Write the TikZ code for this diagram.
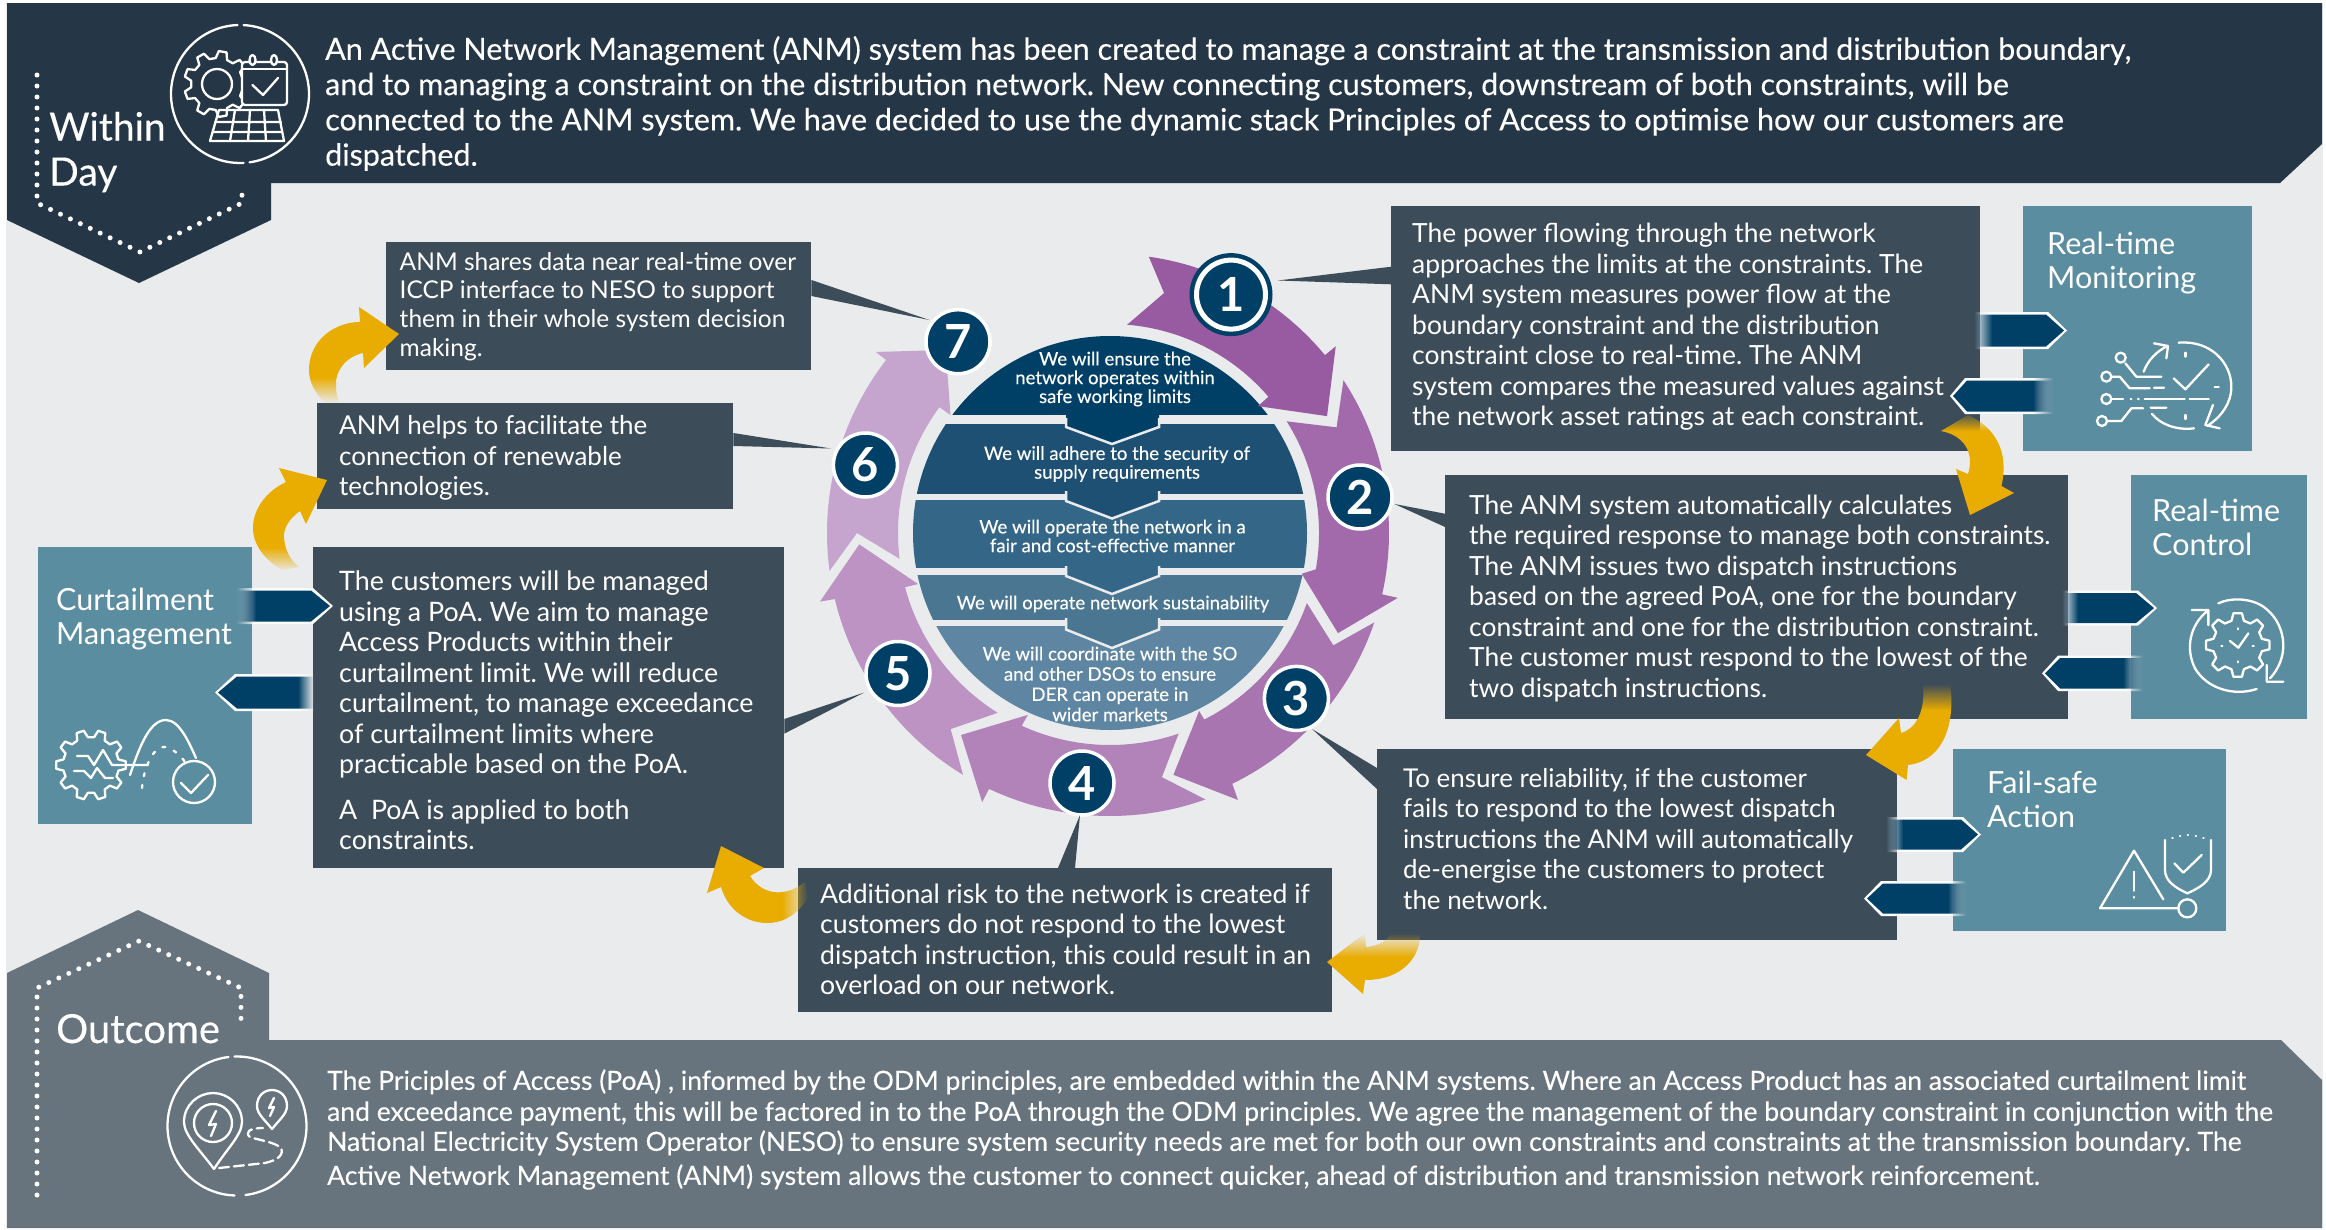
\documentclass[tikz,border=0pt]{standalone}
\usepackage{fontspec}
\setmainfont{Lato}
\newfontfamily\medfont[FakeBold=0.25]{Lato}
\usetikzlibrary{fadings}
\definecolor{bgc}{HTML}{E9EBED}
\definecolor{topc}{HTML}{253646}
\definecolor{botc}{HTML}{67737D}
\definecolor{boxc}{HTML}{3D4C59}
\definecolor{tealc}{HTML}{5B8DA0}
\definecolor{navyc}{HTML}{003F66}
\definecolor{goldc}{HTML}{E9AC00}
\definecolor{bandb}{HTML}{1D5073}
\definecolor{bandc}{HTML}{346687}
\definecolor{bandd}{HTML}{4A7692}
\definecolor{bande}{HTML}{5E85A2}
\definecolor{ringa}{HTML}{985AA0}
\definecolor{ringb}{HTML}{A36AAB}
\definecolor{ringc}{HTML}{A975B0}
\definecolor{ringd}{HTML}{B283B8}
\definecolor{ringe}{HTML}{BC93C2}
\definecolor{ringf}{HTML}{C5A5CE}
\tikzfading[name=fadeR, left color=transparent!0, right color=transparent!100]
\tikzfading[name=fadeL, left color=transparent!100, right color=transparent!0]
\tikzfading[name=fadeU, top color=transparent!100, bottom color=transparent!0]
\tikzfading[name=fadeD, top color=transparent!0, bottom color=transparent!100]
\newcommand\fsz[2]{\fontsize{#1}{#2}\selectfont}
\tikzset{
  every node/.append style={execute at begin node=\frenchspacing},
  infobox/.style={fill=boxc,draw=none,inner sep=0,anchor=north west},
  tealbox/.style={fill=tealc,draw=none,inner sep=0,anchor=north west},
  txt/.style={text=white,align=left,inner sep=0,anchor=west,font=\fsz{26.4}{30.5}},
  teallabel/.style={text=white,align=left,inner sep=0,anchor=base west,font=\fsz{30.5}{34}},
  bandtxt/.style={text=white,align=center,inner sep=0,font=\medfont\fsz{18.6}{18.8}},
  numc/.style={circle,fill=navyc,draw=white,line width=3.5pt,minimum size=64pt,inner sep=0,text=white,font=\bfseries\fsz{47}{47}},
  icon/.style={draw=white,line width=2.3pt,line cap=round,line join=round},
  dots/.style={draw=white,line width=5pt,line cap=round,dash pattern=on 0pt off 11pt},
  pointer/.style={fill=boxc,draw=none},
}
\newcommand\ringarrow[9]{\fill[#1] (#2:\ro pt) arc[start angle=#2,end angle=#3,radius=\ro pt] -- (#4) -- (#5) -- (#6) -- (#7:\ri pt) arc[start angle=#7,end angle=#8,radius=\ri pt] -- (#9) -- cycle;}
\newcommand\goldarrow[6]{\begin{scope}\clip #1;\fill[goldc] #2 rectangle #3;\fill[goldc,path fading=#6] #4 rectangle #5;\end{scope}}
\newcommand\chevR[6]{%
 \begin{scope}\clip (#1,#5) -- (#3+1,#5) -- (#4+2,{(#5+#6)/2}) -- (#3+1,#6) -- (#1,#6) -- cycle;
  \fill[white!85!bgc] (#2,#5-1) rectangle (#4+3,#6+1);
  \fill[white!85!bgc,path fading=fadeL] (#1,#5-1) rectangle (#2,#6+1);\end{scope}
 \begin{scope}\clip (#1,#5+2.5) -- (#3-1,#5+2.5) -- (#4-1,{(#5+#6)/2}) -- (#3-1,#6-2.5) -- (#1,#6-2.5) -- cycle;
  \fill[navyc] (#2,#5) rectangle (#4+3,#6);
  \fill[navyc,path fading=fadeL] (#1,#5) rectangle (#2,#6);\end{scope}}
\newcommand\chevL[6]{%
 \begin{scope}\clip (#4,#5) -- (#2-1,#5) -- (#1-2,{(#5+#6)/2}) -- (#2-1,#6) -- (#4,#6) -- cycle;
  \fill[white!85!bgc] (#1-3,#5-1) rectangle (#3,#6+1);
  \fill[white!85!bgc,path fading=fadeR] (#3,#5-1) rectangle (#4,#6+1);\end{scope}
 \begin{scope}\clip (#4,#5+2.5) -- (#2+1,#5+2.5) -- (#1+1,{(#5+#6)/2}) -- (#2+1,#6-2.5) -- (#4,#6-2.5) -- cycle;
  \fill[navyc] (#1-3,#5) rectangle (#3,#6);
  \fill[navyc,path fading=fadeR] (#3,#5) rectangle (#4,#6);\end{scope}}
\newcommand\mygear[4]{\begin{scope}[shift={(#1)}]\pgfmathsetmacro\gs{360/#4}
 \draw[icon] (-.32*\gs:#3pt) \foreach \i [evaluate=\i as \ga using \i*\gs] in {1,...,#4}{ -- (\ga-\gs-.32*\gs:#3pt) -- (\ga-\gs-.17*\gs:#2pt) -- (\ga-\gs+.17*\gs:#2pt) -- (\ga-\gs+.32*\gs:#3pt)} -- cycle;\end{scope}}
\begin{document}
\begin{tikzpicture}[x=1pt,y=-1pt]
\useasboundingbox (0,0) rectangle (2326,1229);
\fill[white] (0,0) rectangle (2326,1229);
\fill[bgc] (6,3) rectangle (2323,1228);
% top banner
\fill[topc] (7,3) -- (2322,3) -- (2322,144) -- (2280,183) -- (271,183) -- (271,220) -- (139,283) -- (7,220) -- cycle;
\draw[dots] (37,75) -- (37,203) -- (140,252) -- (242,203) -- (242,192);
\node[text=white,align=left,inner sep=0,anchor=west,font=\medfont\fsz{39}{45}] (within) at (49,152) {Within\\Day};
\node[txt,font=\medfont\fsz{30.5}{35.3}] (toptext) at (325,103.5) {An Active Network Management (ANM) system has been created to manage a constraint at the transmission and distribution boundary,\\and to managing a constraint on the distribution network. New connecting customers, downstream of both constraints, will be\\connected to the ANM system. We have decided to use the dynamic stack Principles of Access to optimise how our customers are\\dispatched.};
% top icon
\draw[icon] (240,94) ++(87:69pt) arc[start angle=87,end angle=-82,radius=69pt];
\draw[icon] (240,94) ++(92:69pt) arc[start angle=92,end angle=273,radius=69pt];
\mygear{217,84}{33}{26}{9}
\draw[icon] (217,84) circle[radius=15pt];
\draw[icon,fill=topc,rounded corners=3pt] (242,62) rectangle (287,105);
\draw[icon] (242,69) -- (287,69);
\draw[icon,fill=topc] (252.5,60) ellipse[x radius=3pt,y radius=5pt];
\draw[icon,fill=topc] (274,60) ellipse[x radius=3pt,y radius=5pt];
\draw[icon] (252.5,85) -- (263,95) -- (278,78);
\draw[icon] (219,110) -- (278,110) -- (284,141) -- (210,141) -- cycle;
\draw[icon] (215,122) -- (281,122) (213,132) -- (282,132) (235,110) -- (230,141) (250,110) -- (248,141) (264,110) -- (266,141);
% bottom banner
\fill[botc] (7,973) -- (138,910) -- (269,973) -- (269,1040) -- (2281,1040) -- (2322,1080) -- (2322,1228) -- (7,1228) -- cycle;
\draw[dots] (37,1195) -- (37,988) -- (139,941) -- (241,988) -- (241,1023);
\node[text=white,inner sep=0,anchor=base west,font=\medfont\fsz{40}{44}] (outcome) at (56,1043) {Outcome};
\node[txt,font=\medfont\fsz{26.5}{30}] (bottext) at (327,1129.5) {The Priciples of Access (PoA) , informed by the ODM principles, are embedded within the ANM systems. Where an Access Product has an associated curtailment limit\\[1pt]and exceedance payment, this will be factored in to the PoA through the ODM principles. We agree the management of the boundary constraint in conjunction with the\\National Electricity System Operator (NESO) to ensure system security needs are met for both our own constraints and constraints at the transmission boundary. The\\[4pt]Active Network Management (ANM) system allows the customer to connect quicker, ahead of distribution and transmission network reinforcement.};
% bottom icon
\draw[icon] (237,1126) ++(92:69.5pt) arc[start angle=92,end angle=-83,radius=69.5pt];
\draw[icon] (237,1126) ++(97:69.5pt) arc[start angle=97,end angle=268,radius=69.5pt];
\draw[icon] (214,1169) .. controls (200,1150) and (184,1135) .. (184,1122) .. controls (184,1105) and (198,1093) .. (213,1093) .. controls (228,1093) and (242,1105) .. (242,1122) .. controls (242,1135) and (226,1150) .. (214,1169);
\draw[icon] (213,1123) circle[radius=19pt];
\draw[icon] (216,1111) -- (209,1125) -- (216,1124) -- (211,1136);
\draw[icon] (272,1129) .. controls (265,1120) and (257,1114) .. (257,1106) .. controls (257,1096) and (264,1090) .. (272,1090) .. controls (280,1090) and (287,1096) .. (287,1106) .. controls (287,1114) and (279,1120) .. (272,1129);
\draw[icon] (274,1098) -- (269,1108) -- (274,1107) -- (270,1116);
\draw[icon,dash pattern=on 10pt off 5pt] (219,1168) -- (265,1163) .. controls (278,1160) and (284,1155) .. (281,1148) .. controls (275,1142) and (258,1140) .. (250,1137) .. controls (245,1133) and (248,1128) .. (263,1128);
% disc bands
\begin{scope}
\clip (1110,533) circle[radius=197pt];
\fill[navyc] (900,330) rectangle (1320,415);
\fill[bandb] (900,423.6) rectangle (1320,493.6);
\fill[bandc] (900,500) rectangle (1320,568);
\fill[bandd] (900,575) rectangle (1320,620);
\fill[bande] (900,626) rectangle (1320,740);
\end{scope}
\fill[navyc] (1066,411) -- (1066,427) -- (1112,444) -- (1159,427) -- (1159,411) -- cycle;
\draw[bgc,line width=2.5pt] (1066,418) -- (1066,427) -- (1112,444) -- (1159,427) -- (1159,418);
\fill[bandb] (1066,490) -- (1066,501) -- (1112,518.5) -- (1159,501) -- (1159,490) -- cycle;
\draw[bgc,line width=2.5pt] (1066,491) -- (1066,501) -- (1112,518.5) -- (1159,501) -- (1159,491);
\fill[bandc] (1066,565) -- (1066,576) -- (1112,594) -- (1159,576) -- (1159,565) -- cycle;
\draw[bgc,line width=2.5pt] (1066,566) -- (1066,576) -- (1112,594) -- (1159,576) -- (1159,566);
\fill[bandd] (1066,617) -- (1066,629.5) -- (1112,648) -- (1159,629.5) -- (1159,617) -- cycle;
\draw[bgc,line width=2.5pt] (1066,618) -- (1066,629.5) -- (1112,648) -- (1159,629.5) -- (1159,618);
\node[bandtxt] (band1) at (1115,379) {We will ensure the\\network operates within\\safe working limits};
\node[bandtxt] (band2) at (1117,464) {We will adhere to the security of\\supply requirements};
\node[bandtxt] (band3) at (1112.5,536) {We will operate the network in a\\fair and cost-effective manner};
\node[bandtxt] (band4) at (1113,604) {We will operate network sustainability};
\node[bandtxt,font=\medfont\fsz{18.6}{20.3}] (band5) at (1110,684) {We will coordinate with the SO\\and other DSOs to ensure\\DER can operate in\\wider markets};
% ring arrows
\begin{scope}[shift={(1110,533)}]
\def\ro{279}\def\ri{209}
\ringarrow{ringa}{82}{39.6}{39.6:293pt}{28.3:246.5pt}{40.6:195pt}{40.7}{85.3}{77.3:246pt}
\ringarrow{ringb}{33.2}{-12.7}{-12.7:295pt}{-23.7:249pt}{-12:196pt}{-10}{32.3}{25:250pt}
\ringarrow{ringc}{-18.7}{-64}{-64.4:296pt}{-75.3:250pt}{-63.4:199pt}{-63.2}{-19.6}{-26.7:250pt}
\def\ro{283}\def\ri{212}
\ringarrow{ringd}{-70.3}{-115.3}{-115.4:298pt}{-126.4:251pt}{-114.3:199.6pt}{-114.6}{-71.1}{-78:249.6pt}
\ringarrow{ringe}{-121.3}{-166.5}{-166.7:298pt}{-177.4:251pt}{-165.1:198.6pt}{-165.2}{-122}{-129.1:252.7pt}
\ringarrow{ringf}{-172.3}{-217.7}{-217.7:296pt}{-228.1:246pt}{-216.5:198.4pt}{-216.4}{-173}{-180:253pt}
\end{scope}
% boxes
\node[infobox,minimum width=589pt,minimum height=245.5pt] (box1) at (1391,205.5) {};
\node[infobox,minimum width=623pt,minimum height=244pt] (box2) at (1445,475) {};
\node[infobox,minimum width=520pt,minimum height=191pt] (box3) at (1377,749) {};
\node[infobox,minimum width=534pt,minimum height=144pt] (box4) at (798,868) {};
\node[infobox,minimum width=471pt,minimum height=321pt] (box5) at (313,547) {};
\node[infobox,minimum width=416pt,minimum height=106pt] (box6) at (317,403) {};
\node[infobox,minimum width=425pt,minimum height=128pt] (box7) at (386,242) {};
\node[tealbox,minimum width=229pt,minimum height=245.5pt] (mon) at (2023,205.5) {};
\node[tealbox,minimum width=176pt,minimum height=244pt] (ctl) at (2131,475) {};
\node[tealbox,minimum width=273pt,minimum height=182pt] (fail) at (1953,749) {};
\node[tealbox,minimum width=214pt,minimum height=277pt] (cur) at (38,547) {};
% number circles
\fill[navyc] (1231,294.6) circle[radius=41.5pt];
\node[numc,minimum size=69pt,line width=5pt] (n1) at (1231,294.6) {1};
\node[numc] (n2) at (1360,497) {2};
\node[numc] (n3) at (1296.4,698.4) {3};
\node[numc] (n4) at (1082,783) {4};
\node[numc] (n5) at (898,673.5) {5};
\node[numc] (n6) at (865.4,465) {6};
\node[numc] (n7) at (958,341.7) {7};
% pointers
\coordinate (tip1) at (1278,280.5);
\coordinate (tip2) at (1394.5,504);
\coordinate (tip3) at (1312,729);
\coordinate (tip4) at (1080,815);
\coordinate (tip5) at (864,692.6);
\coordinate (tip6) at (831,448.5);
\coordinate (tip7) at (929.4,320);
\fill[pointer] (tip1) -- (box1.west |- 0,266.7) -- (box1.west |- 0,284.3) -- cycle;
\fill[pointer] (tip2) -- (box2.west |- 0,513.7) -- (box2.west |- 0,527) -- cycle;
\fill[pointer] (tip3) -- (box3.west |- 0,768) -- (box3.west |- 0,789) -- cycle;
\fill[pointer] (tip4) -- (1058,868) -- (1075,868) -- cycle;
\fill[pointer] (tip5) -- (box5.east |- 0,719) -- (box5.east |- 0,733.6) -- cycle;
\fill[pointer] (tip6) -- (box6.east |- 0,433) -- (box6.east |- 0,446) -- cycle;
\fill[pointer] (tip7) -- (box7.east |- 0,280) -- (box7.east |- 0,296) -- cycle;
% box text
\node[txt] (t1) at (1412,327) {The power flowing through the network\\approaches the limits at the constraints. The\\ANM system measures power flow at the\\boundary constraint and the distribution\\constraint close to real-time. The ANM\\system compares the measured values against\\the network asset ratings at each constraint.};
\node[txt] (t2) at (1469,598.5) {The ANM system automatically calculates\\the required response to manage both constraints.\\The ANM issues two dispatch instructions\\based on the agreed PoA, one for the boundary\\constraint and one for the distribution constraint.\\The customer must respond to the lowest of the\\two dispatch instructions.};
\node[txt,font=\fsz{25.9}{30.5}] (t3) at (1403,839) {To ensure reliability, if the customer\\fails to respond to the lowest dispatch\\instructions the ANM will automatically\\de-energise the customers to protect\\the network.};
\node[txt,font=\fsz{26.6}{30.5}] (t4) at (820,939.5) {Additional risk to the network is created if\\customers do not respond to the lowest\\dispatch instruction, this could result in an\\overload on our network.};
\node[txt,font=\fsz{26.8}{30.5}] (t5) at (339,710.5) {The customers will be managed\\using a PoA. We aim to manage\\Access Products within their\\curtailment limit. We will reduce\\curtailment, to manage exceedance\\of curtailment limits where\\practicable based on the PoA.\\[15pt]A~ PoA is applied to both\\constraints.};
\node[txt,font=\fsz{26}{30.5}] (t6) at (339,458) {ANM helps to facilitate the\\connection of renewable\\technologies.};
\node[txt,font=\fsz{24.5}{28.7}] (t7) at (399.5,306.5) {ANM shares data near real-time over\\ICCP interface to NESO to support\\them in their whole system decision\\making.};
\node[teallabel] (l1) at (2047,288) {Real-time\\Monitoring};
\node[teallabel] (l2) at (2152,555) {Real-time\\Control};
\node[teallabel] (l3) at (1987,827) {Fail-safe\\Action};
\node[teallabel] (l4) at (56,644) {Curtailment\\Management};
% gold arrows
\goldarrow{(1968,415) .. controls (1996,428) and (2009,452) .. (2001.5,486) -- (2014,493) -- (1970,515) -- (1956,469) -- (1968,474) .. controls (1975,452) and (1963,435) .. (1941,431) -- cycle}{(1930,431)}{(2030,520)}{(1930,412)}{(2030,431)}{fadeU}
\goldarrow{(1950,684) .. controls (1955,715) and (1948,760) .. (1908,765) -- (1906.6,780) -- (1866,755) -- (1899,718) -- (1901,733) .. controls (1913,730) and (1926,715) .. (1923,684) -- cycle}{(1860,710)}{(1960,785)}{(1860,684)}{(1960,710)}{fadeU}
\goldarrow{(1420,933) .. controls (1421,955) and (1404,980) .. (1365,980) -- (1363,994) -- (1327,962) -- (1365,933) -- (1366,947) .. controls (1377,946) and (1387,942) .. (1391,933) -- cycle}{(1320,957)}{(1425,1000)}{(1320,933)}{(1425,957)}{fadeU}
\goldarrow{(721,846) -- (764,868) -- (750,876) .. controls (762,895) and (785,898) .. (805,882) -- (808,898) .. controls (795,918) and (780,923) .. (767,923) .. controls (745,923) and (727,908) .. (721,887) -- (707,893) -- cycle}{(700,840)}{(782,930)}{(782,840)}{(808,930)}{fadeR}
\goldarrow{(327,480) -- (306,524) -- (300,511) .. controls (290,518) and (283,528) .. (284,538) .. controls (285,550) and (290,560) .. (299,567) -- (282,570) .. controls (265,560) and (253,545) .. (253,528) .. controls (253,510) and (265,492) .. (286,482) -- (279,468) -- cycle}{(245,460)}{(335,547)}{(245,547)}{(335,572)}{fadeD}
\goldarrow{(399,334) -- (364,368) -- (363,353) .. controls (345,357) and (335,372) .. (336,385) .. controls (336,392) and (337,397) .. (339,402) -- (325,403) .. controls (315,393) and (309,382) .. (309,370) .. controls (309,340) and (335,322) .. (360,322) -- (359,307) -- cycle}{(300,300)}{(405,377)}{(300,377)}{(405,403)}{fadeD}
% small arrows
\chevR{1974}{1992}{2047}{2065}{312}{349}
\chevL{1952}{1966}{2033}{2053}{378}{414}
\chevR{2062}{2078}{2137}{2155}{590.5}{625.6}
\chevL{2044}{2059}{2123}{2143}{655.6}{691}
\chevR{1886}{1903}{1962}{1979}{817}{852}
\chevL{1866}{1882}{1948}{1966}{881}{916}
\chevR{236}{256}{312}{331}{588}{624}
\chevL{217}{236}{298}{314}{674}{711}
% monitoring icon
\begin{scope}[shift={(2078,320)},x=0.3333pt,y=-0.3333pt]
\draw[icon] (128,113) circle[radius=5pt] (85,170) circle[radius=5pt] (85,237) circle[radius=5pt] (72,303) circle[radius=5pt];
\draw[icon] (142,130) -- (175,170) -- (250,170) (100,170) -- (125,170) -- (155,205) -- (215,205) (228,203) -- (258,203);
\draw[icon] (100,237) -- (135,237) (158,237) -- (160,237) (180,237) -- (182,237) (200,237) -- (320,237) (335,237) -- (392,237);
\draw[icon] (88,303) -- (130,303) -- (160,265) -- (195,265) (218,263) -- (265,263);
\draw[icon] (197,155) .. controls (210,120) and (235,95) .. (268,78) (228,70) -- (270,78) -- (265,115);
\draw[icon] (287,175) -- (322,208) -- (392,133);
\draw[icon] (322,98) -- (322,110) (410,200) -- (422,200) (322,285) -- (322,297);
\draw[icon] (302,68) .. controls (400,60) and (460,130) .. (460,200) .. controls (460,250) and (430,290) .. (388,318) (405,255) -- (382,315) -- (425,325);
\draw[icon] (222,282) .. controls (245,310) and (290,332) .. (348,325);
\end{scope}
% control icon
\begin{scope}[shift={(2170,585)},x=0.3333pt,y=-0.3333pt]
\mygear{203,180}{32}{25}{8}
\draw[icon] (145,55) .. controls (180,38) and (240,38) .. (280,65) .. controls (345,110) and (365,210) .. (300,280) (340,290) -- (290,290) -- (290,240);
\draw[icon] (260,312) .. controls (190,335) and (110,310) .. (75,250) .. controls (45,190) and (60,120) .. (112,78) (65,75) -- (115,75) -- (115,120);
\draw[icon] (180,168) -- (205,188) -- (235,145);
\draw[icon] (203,130) -- (203,133) (154,182) -- (157,182) (248,182) -- (251,182) (203,229) -- (203,232);
\end{scope}
% fail-safe icon
\begin{scope}[shift={(2085,820)},x=0.3333pt,y=-0.3333pt]
\draw[icon] (235,238) -- (147,92) -- (45,265) -- (280,265);
\draw[icon] (307,265) circle[radius=9pt];
\draw[icon] (147,155) -- (147,212) (147,231) -- (147,233);
\draw[icon] (240,60) -- (240,150) .. controls (240,185) and (275,205) .. (307,220) .. controls (340,205) and (378,185) .. (378,150) -- (378,60);
\draw[icon] (262,53) -- (263,53) (285,47) -- (286,47) (308,44) -- (309,44) (332,47) -- (333,47) (355,53) -- (356,53);
\draw[icon] (268,130) -- (295,158) -- (350,105);
\end{scope}
% curtailment icon
\mygear{91,765}{35}{28}{10}
\draw[icon] (77,756) -- (88,756) -- (94,765) -- (103,750) -- (112,765) -- (148,765);
\draw[icon] (74,771) -- (84,771) -- (91,778) -- (97,768) -- (105,778) -- (113,778);
\draw[icon] (130,775) .. controls (140,745) and (150,720) .. (166,720) .. controls (180,720) and (190,745) .. (196,758);
\draw[icon,dash pattern=on 3pt off 9pt] (142,788) .. controls (144,765) and (155,745) .. (165,747) .. controls (175,750) and (180,755) .. (185,762);
\draw[icon] (194,782) circle[radius=21pt];
\draw[icon] (181,783) -- (191,793) -- (208,775);
\end{tikzpicture}
\end{document}
